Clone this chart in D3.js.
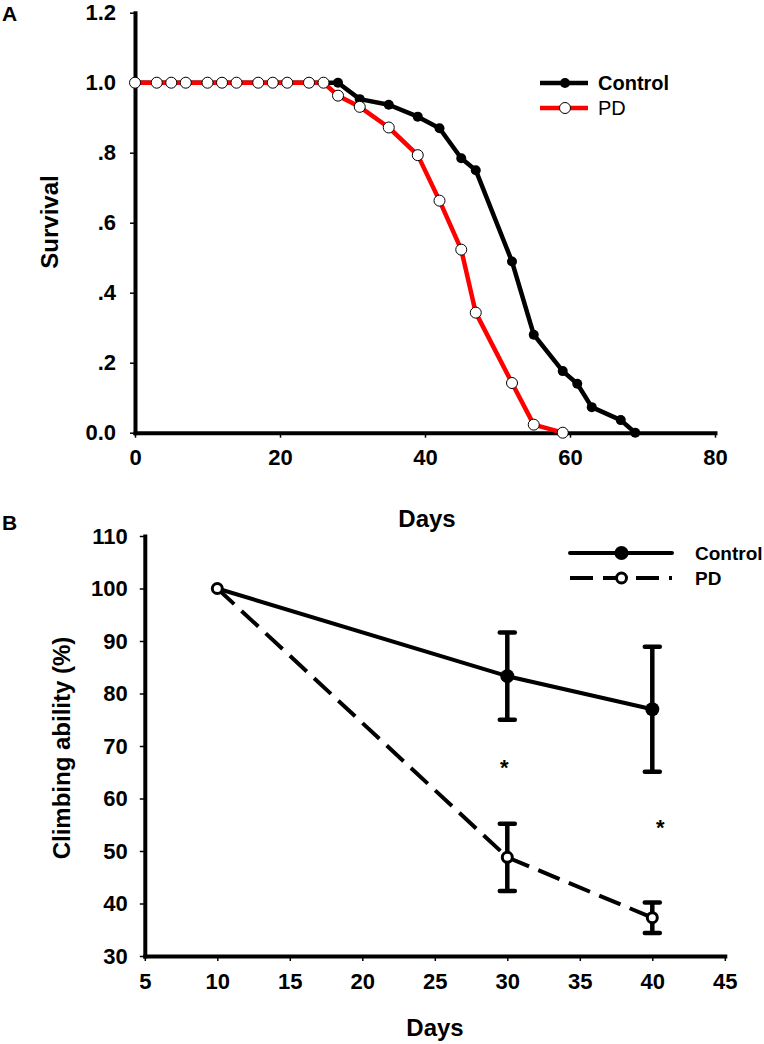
<!DOCTYPE html>
<html>
<head>
<meta charset="utf-8">
<script src="https://cdn.jsdelivr.net/npm/d3@7"></script>
<style>
  body { margin: 0; background: #fff; }
  svg { font-family: "Liberation Sans", Arial, sans-serif; }
</style>
</head>
<body>
<div id="viz"></div>
<script>
// panel A - survival curves
const daysA = [0, 3, 5, 7, 10, 12, 14, 17, 19, 21, 24, 26, 28, 31, 35, 39, 42, 45, 47, 52, 55, 59, 61, 63, 67, 69];
const controlSurvival = [1, 1, 1, 1, 1, 1, 1, 1, 1, 1, 1, 1, 1.0, 0.953, 0.937, 0.903, 0.870, 0.784, 0.750, 0.489, 0.280, 0.176, 0.140, 0.073, 0.036, 0];
const pdDaysA = [0, 3, 5, 7, 10, 12, 14, 17, 19, 21, 24, 26, 28, 31, 35, 39, 42, 45, 47, 52, 55, 59];
const pdSurvival = [1, 1, 1, 1, 1, 1, 1, 1, 1, 1, 1, 1, 0.963, 0.931, 0.872, 0.793, 0.663, 0.523, 0.343, 0.142, 0.023, 0];
const ticksAx = [0, 20, 40, 60, 80];
const ticksAy = [0, 0.2, 0.4, 0.6, 0.8, 1.0, 1.2];
const labelsAy = ["0.0", ".2", ".4", ".6", ".8", "1.0", "1.2"];

// panel B - climbing ability
const daysB = [10, 30, 40];
const controlClimb = [100, 83.3, 77.0];
const controlErr = [0, 8.3, 11.9];
const pdClimb = [100, 48.8, 37.3];
const pdErr = [0, 6.4, 2.9];
const starDays = [30, 40];
const starValues = [66.8, 55.4];
const ticksBx = [5, 10, 15, 20, 25, 30, 35, 40, 45];
const ticksBy = [30, 40, 50, 60, 70, 80, 90, 100, 110];

const svg = d3.select('#viz').append('svg')
    .attr('width', 764)
    .attr('height', 1044);

function styleAxis(g, fontSize) {
    g.select('.domain').attr('stroke-width', 4).attr('stroke-linecap', 'square');
    g.selectAll('.tick line').attr('stroke-width', 1.5);
    g.selectAll('.tick text')
        .attr('font-size', fontSize)
        .attr('font-weight', 'bold')
        .attr('fill', '#000');
}

// ---------- panel A ----------
const xA = d3.scaleLinear().domain([0, 80]).range([135, 715]);
const yA = d3.scaleLinear().domain([0, 1.2]).range([432.7, 12.7]);

const gA = svg.append('g');

gA.append('g')
    .attr('transform', `translate(0,${yA(0)})`)
    .call(d3.axisBottom(xA).tickValues(ticksAx).tickSize(5).tickSizeOuter(0).tickPadding(12))
    .call(g => styleAxis(g, 22));

gA.append('g')
    .attr('transform', `translate(${xA(0)},0)`)
    .call(d3.axisLeft(yA).tickValues(ticksAy).tickFormat((d, i) => labelsAy[i]).tickSize(5).tickSizeOuter(0).tickPadding(14))
    .call(g => styleAxis(g, 22));

const lineA = d3.line().x(d => xA(d[0])).y(d => yA(d[1]));
const controlA = daysA.map((d, i) => [d, controlSurvival[i]]);
const pdA = pdDaysA.map((d, i) => [d, pdSurvival[i]]);

gA.append('path')
    .datum(controlA)
    .attr('fill', 'none')
    .attr('stroke', '#000')
    .attr('stroke-width', 4.5)
    .attr('stroke-linejoin', 'round')
    .attr('d', lineA);

gA.append('g').selectAll('circle')
    .data(controlA)
    .enter().append('circle')
        .attr('cx', d => xA(d[0]))
        .attr('cy', d => yA(d[1]))
        .attr('r', 5)
        .attr('fill', '#000');

gA.append('path')
    .datum(pdA)
    .attr('fill', 'none')
    .attr('stroke', '#ff0000')
    .attr('stroke-width', 4.5)
    .attr('stroke-linejoin', 'round')
    .attr('d', lineA);

gA.append('g').selectAll('circle')
    .data(pdA)
    .enter().append('circle')
        .attr('cx', d => xA(d[0]))
        .attr('cy', d => yA(d[1]))
        .attr('r', 5.5)
        .attr('fill', '#fff')
        .attr('stroke', '#000')
        .attr('stroke-width', 1);

// legend A
const legA = gA.append('g');
legA.append('line').attr('x1', 540).attr('x2', 588).attr('y1', 83).attr('y2', 83)
    .attr('stroke', '#000').attr('stroke-width', 4.5);
legA.append('circle').attr('cx', 565).attr('cy', 83).attr('r', 5).attr('fill', '#000');
legA.append('text').attr('x', 598).attr('y', 90).attr('font-size', 20).attr('font-weight', 'bold').text('Control');
legA.append('line').attr('x1', 540).attr('x2', 588).attr('y1', 108).attr('y2', 108)
    .attr('stroke', '#ff0000').attr('stroke-width', 4.5);
legA.append('circle').attr('cx', 565).attr('cy', 108).attr('r', 5.5)
    .attr('fill', '#fff').attr('stroke', '#000').attr('stroke-width', 1);
legA.append('text').attr('x', 598).attr('y', 115).attr('font-size', 20).text('PD');

gA.append('text').attr('x', 427).attr('y', 527).attr('text-anchor', 'middle')
    .attr('font-size', 24).attr('font-weight', 'bold').text('Days');
gA.append('text').attr('transform', 'translate(58,222) rotate(-90)').attr('text-anchor', 'middle')
    .attr('font-size', 24).attr('font-weight', 'bold').text('Survival');
gA.append('text').attr('x', 2).attr('y', 21).attr('font-size', 21).attr('font-weight', 'bold').text('A');

// ---------- panel B ----------
const xB = d3.scaleLinear().domain([5, 45]).range([144.8, 724.8]);
const yB = d3.scaleLinear().domain([30, 110]).range([956, 536]);

const gB = svg.append('g');

gB.append('g')
    .attr('transform', `translate(0,${yB(30)})`)
    .call(d3.axisBottom(xB).tickValues(ticksBx).tickSize(5).tickSizeOuter(0).tickPadding(12))
    .call(g => styleAxis(g, 22));

gB.append('g')
    .attr('transform', `translate(${xB(5)},0)`)
    .call(d3.axisLeft(yB).tickValues(ticksBy).tickSize(5).tickSizeOuter(0).tickPadding(12))
    .call(g => styleAxis(g, 22));

const lineB = d3.line().x(d => xB(d.day)).y(d => yB(d.v));
const controlB = daysB.map((d, i) => ({ day: d, v: controlClimb[i], e: controlErr[i] }));
const pdB = daysB.map((d, i) => ({ day: d, v: pdClimb[i], e: pdErr[i] }));

gB.append('path')
    .datum(controlB)
    .attr('fill', 'none')
    .attr('stroke', '#000')
    .attr('stroke-width', 4)
    .attr('d', lineB);

gB.append('path')
    .datum(pdB)
    .attr('fill', 'none')
    .attr('stroke', '#000')
    .attr('stroke-width', 4)
    .attr('stroke-dasharray', '23,10')
    .attr('d', lineB);

function errorBars(data) {
    const eb = gB.append('g').selectAll('g')
        .data(data.filter(d => d.e > 0))
        .enter().append('g')
            .attr('stroke', '#000')
            .attr('stroke-width', 4.5);
    eb.append('line')
        .attr('x1', d => xB(d.day)).attr('x2', d => xB(d.day))
        .attr('y1', d => yB(d.v + d.e)).attr('y2', d => yB(d.v - d.e));
    eb.append('line')
        .attr('x1', d => xB(d.day) - 7.5).attr('x2', d => xB(d.day) + 7.5)
        .attr('y1', d => yB(d.v + d.e)).attr('y2', d => yB(d.v + d.e))
        .attr('stroke-linecap', 'round');
    eb.append('line')
        .attr('x1', d => xB(d.day) - 7.5).attr('x2', d => xB(d.day) + 7.5)
        .attr('y1', d => yB(d.v - d.e)).attr('y2', d => yB(d.v - d.e))
        .attr('stroke-linecap', 'round');
}
errorBars(controlB);
errorBars(pdB);

gB.append('g').selectAll('circle')
    .data(controlB.filter(d => d.day !== 10))
    .enter().append('circle')
        .attr('cx', d => xB(d.day))
        .attr('cy', d => yB(d.v))
        .attr('r', 7)
        .attr('fill', '#000');

gB.append('g').selectAll('circle')
    .data(pdB)
    .enter().append('circle')
        .attr('cx', d => xB(d.day))
        .attr('cy', d => yB(d.v))
        .attr('r', 5)
        .attr('fill', '#fff')
        .attr('stroke', '#000')
        .attr('stroke-width', 3);

gB.append('g').selectAll('text')
    .data(starDays)
    .enter().append('text')
        .attr('x', (d, i) => xB(d) + (i === 0 ? -3 : 8))
        .attr('y', (d, i) => yB(starValues[i]) + 12)
        .attr('text-anchor', 'middle')
        .attr('font-size', 22)
        .attr('font-weight', 'bold')
        .text('*');

// legend B
const legB = gB.append('g');
legB.append('line').attr('x1', 570).attr('x2', 672).attr('y1', 553).attr('y2', 553)
    .attr('stroke', '#000').attr('stroke-width', 4).attr('stroke-linecap', 'round');
legB.append('circle').attr('cx', 621.5).attr('cy', 553).attr('r', 7).attr('fill', '#000');
legB.append('text').attr('x', 695).attr('y', 560).attr('font-size', 19).attr('font-weight', 'bold').text('Control');
legB.append('line').attr('x1', 570).attr('x2', 672).attr('y1', 578).attr('y2', 578)
    .attr('stroke', '#000').attr('stroke-width', 4).attr('stroke-dasharray', '23,10');
legB.append('circle').attr('cx', 621.5).attr('cy', 578).attr('r', 5)
    .attr('fill', '#fff').attr('stroke', '#000').attr('stroke-width', 3);
legB.append('text').attr('x', 695).attr('y', 585).attr('font-size', 19).attr('font-weight', 'bold').text('PD');

gB.append('text').attr('x', 435).attr('y', 1036).attr('text-anchor', 'middle')
    .attr('font-size', 24).attr('font-weight', 'bold').text('Days');
gB.append('text').attr('transform', 'translate(70,748) rotate(-90)').attr('text-anchor', 'middle')
    .attr('font-size', 24).attr('font-weight', 'bold').text('Climbing ability (%)');
gB.append('text').attr('x', 2).attr('y', 530).attr('font-size', 21).attr('font-weight', 'bold').text('B');
</script>
</body>
</html>
